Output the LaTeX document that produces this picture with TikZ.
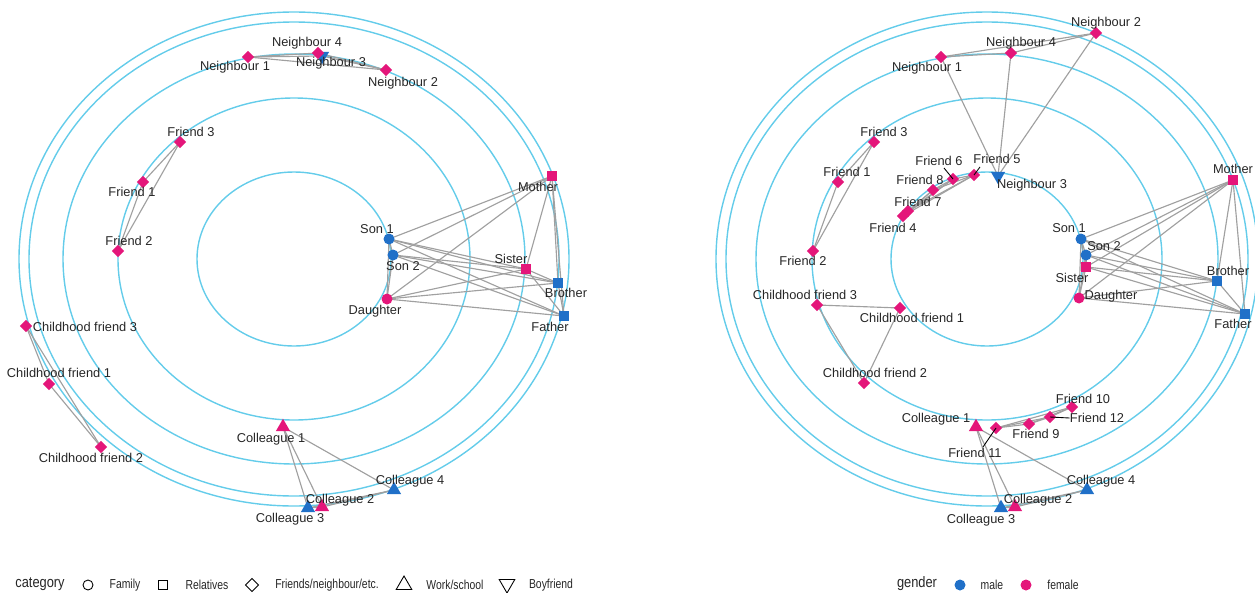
\documentclass[tikz,border=0pt]{standalone}
\usepackage{fontspec}
\setmainfont{Liberation Sans}
\usepackage{graphicx}
\usetikzlibrary{shapes.geometric,backgrounds}
\definecolor{ringblue}{RGB}{100,204,234}
\definecolor{fempink}{RGB}{228,22,122}
\definecolor{malblue}{RGB}{32,112,200}
\definecolor{edgegray}{RGB}{160,160,160}
\tikzset{
  ring/.style={draw=ringblue, line width=0.8pt},
  edge/.style={draw=edgegray, line width=0.65pt},
  lead/.style={draw=black, line width=0.5pt},
  lbl/.style={inner sep=0pt, text=black!85, font=\fontsize{7.3}{8.5}\selectfont},
  fam/.style={circle, inner sep=0pt, minimum size=0.22cm},
  rel/.style={rectangle, inner sep=0pt, minimum size=0.2cm},
  frd/.style={diamond, inner sep=0pt, minimum size=0.25cm},
  wrk/.style={regular polygon, regular polygon sides=3, inner sep=0pt, minimum size=0.33cm},
  boy/.style={regular polygon, regular polygon sides=3, shape border rotate=180, inner sep=0pt, minimum size=0.33cm},
  fem/.style={fill=fempink},
  mal/.style={fill=malblue},
  key/.style={draw=black, line width=0.5pt},
  keytxt/.style={inner sep=0pt, text=black!85, font=\fontsize{7.4}{8.5}\selectfont},
  keyhead/.style={inner sep=0pt, text=black!85, font=\fontsize{8.6}{10}\selectfont}
}

\begin{document}
\begin{tikzpicture}[x=0.02cm, y=-0.02cm]
\useasboundingbox (0,0) rectangle (1255,592);
% left panel: category
\path
  (322,56) node[boy, mal] (aN3) {}
  (248,57) node[frd, fem] (aN1) {}
  (318,53) node[frd, fem] (aN4) {}
  (386,70) node[frd, fem] (aN2) {}
  (235,67) node[lbl] (laN1) {Neighbour 1}
  (307,43) node[lbl] (laN4) {Neighbour 4}
  (331,63) node[lbl] (laN3) {Neighbour 3}
  (403,83) node[lbl] (laN2) {Neighbour 2}
  (180,142) node[frd, fem] (aF3) {}
  (143,182) node[frd, fem] (aF1) {}
  (118,251) node[frd, fem] (aF2) {}
  (191,132) node[lbl] (laF3) {Friend 3}
  (132,192) node[lbl] (laF1) {Friend 1}
  (129,241) node[lbl] (laF2) {Friend 2}
  (389,239) node[fam, mal] (aSon1) {}
  (393,255) node[fam, mal] (aSon2) {}
  (387,299) node[fam, fem] (aDau) {}
  (526,269) node[rel, fem] (aSis) {}
  (552,176) node[rel, fem] (aMot) {}
  (558,283) node[rel, mal] (aBro) {}
  (564,316) node[rel, mal] (aFat) {}
  (377,229) node[lbl] (laSon1) {Son 1}
  (403,266) node[lbl] (laSon2) {Son 2}
  (375,311) node[lbl] (laDau) {Daughter}
  (511,259) node[lbl] (laSis) {Sister}
  (538,187) node[lbl] (laMot) {Mother}
  (566,293) node[lbl] (laBro) {Brother}
  (550,327) node[lbl] (laFat) {Father}
  (26,326) node[frd, fem] (aCF3) {}
  (49,384) node[frd, fem] (aCF1) {}
  (101,447) node[frd, fem] (aCF2) {}
  (85,327) node[lbl] (laCF3) {Childhood friend 3}
  (59,373) node[lbl] (laCF1) {Childhood friend 1}
  (91,458) node[lbl] (laCF2) {Childhood friend 2}
  (283,427) node[wrk, fem] (aC1) {}
  (394,490) node[wrk, mal] (aC4) {}
  (308,508) node[wrk, mal] (aC3) {}
  (322,507) node[wrk, fem] (aC2) {}
  (271,439) node[lbl] (laC1) {Colleague 1}
  (410,481) node[lbl] (laC4) {Colleague 4}
  (340,500) node[lbl] (laC2) {Colleague 2}
  (290,519) node[lbl] (laC3) {Colleague 3};
% right panel: gender
\path
  (1096,33) node[frd, fem] (bN2) {}
  (1011,53) node[frd, fem] (bN4) {}
  (941,57) node[frd, fem] (bN1) {}
  (998,176) node[boy, mal] (bN3) {}
  (1106,23) node[lbl] (lbN2) {Neighbour 2}
  (1021,43) node[lbl] (lbN4) {Neighbour 4}
  (927,68) node[lbl] (lbN1) {Neighbour 1}
  (1032,185) node[lbl] (lbN3) {Neighbour 3}
  (874,142) node[frd, fem] (bF3) {}
  (838,182) node[frd, fem] (bF1) {}
  (813,251) node[frd, fem] (bF2) {}
  (884,132) node[lbl] (lbF3) {Friend 3}
  (847,172) node[lbl] (lbF1) {Friend 1}
  (803,261) node[lbl] (lbF2) {Friend 2}
  (974,175) node[frd, fem] (bF5) {}
  (953,179) node[frd, fem] (bF6) {}
  (933,190) node[frd, fem] (bF8) {}
  (908,211) node[frd, fem] (bF7) {}
  (903,216) node[frd, fem] (bF4) {}
  (997,159) node[lbl] (lbF5) {Friend 5}
  (939,161) node[lbl] (lbF6) {Friend 6}
  (920,180) node[lbl] (lbF8) {Friend 8}
  (918,202) node[lbl] (lbF7) {Friend 7}
  (893,228) node[lbl] (lbF4) {Friend 4}
  (1081,239) node[fam, mal] (bSon1) {}
  (1086,255) node[fam, mal] (bSon2) {}
  (1086,267) node[rel, fem] (bSis) {}
  (1079,298) node[fam, fem] (bDau) {}
  (1233,180) node[rel, fem] (bMot) {}
  (1217,281) node[rel, mal] (bBro) {}
  (1245,314) node[rel, mal] (bFat) {}
  (1069,228) node[lbl] (lbSon1) {Son 1}
  (1104,246) node[lbl] (lbSon2) {Son 2}
  (1072,278) node[lbl] (lbSis) {Sister}
  (1111,296) node[lbl] (lbDau) {Daughter}
  (1233,169) node[lbl] (lbMot) {Mother}
  (1228,271) node[lbl] (lbBro) {Brother}
  (1233,324) node[lbl] (lbFat) {Father}
  (817,305) node[frd, fem] (bCF3) {}
  (900,308) node[frd, fem] (bCF1) {}
  (864,383) node[frd, fem] (bCF2) {}
  (805,295) node[lbl] (lbCF3) {Childhood friend 3}
  (912,318) node[lbl] (lbCF1) {Childhood friend 1}
  (875,373) node[lbl] (lbCF2) {Childhood friend 2}
  (976,427) node[wrk, fem] (bC1) {}
  (996,428) node[frd, fem] (bF11) {}
  (1029,424) node[frd, fem] (bF9) {}
  (1050,417) node[frd, fem] (bF12) {}
  (1072,407) node[frd, fem] (bF10) {}
  (936,419) node[lbl] (lbC1) {Colleague 1}
  (975,453) node[lbl] (lbF11) {Friend 11}
  (1036,434) node[lbl] (lbF9) {Friend 9}
  (1097,418) node[lbl] (lbF12) {Friend 12}
  (1083,399) node[lbl] (lbF10) {Friend 10}
  (1087,490) node[wrk, mal] (bC4) {}
  (1001,508) node[wrk, mal] (bC3) {}
  (1015,507) node[wrk, fem] (bC2) {}
  (1101,481) node[lbl] (lbC4) {Colleague 4}
  (1038,500) node[lbl] (lbC2) {Colleague 2}
  (981,520) node[lbl] (lbC3) {Colleague 3};
% pointer lines
\coordinate (kF5) at (980,167);
\coordinate (kF6) at (944,168);
\coordinate (kF11) at (983,447);
\draw[lead] (kF5) -- (bF5.center);
\draw[lead] (kF6) -- (bF6.center);
\draw[lead] (kF11) -- (bF11.center);
\draw[lead] (bF12.center) -- (lbF12.west);
% rings and ties
\begin{scope}[on background layer]
\foreach \rx/\ry in {97/87, 176/161, 231/205, 265/237, 275/247}
  \draw[ring] (294,259) ellipse [x radius=\rx, y radius=\ry];
\foreach \rx/\ry in {96/87, 175/161, 231/205, 261/237, 271/247}
  \draw[ring] (987,259) ellipse [x radius=\rx, y radius=\ry];
\foreach \p in {a,b} {
  \foreach \u/\v in {Son1/Son2, Son1/Dau, Son1/Sis, Son1/Bro, Son1/Mot, Son1/Fat,
      Son2/Dau, Son2/Sis, Son2/Bro, Son2/Mot, Son2/Fat, Dau/Sis, Dau/Bro, Dau/Mot,
      Dau/Fat, Sis/Bro, Sis/Mot, Sis/Fat, Bro/Mot, Bro/Fat, Mot/Fat,
      N1/N2, N1/N3, N1/N4, N2/N3, N2/N4, N3/N4, F1/F2, F1/F3, F2/F3,
      CF1/CF2, CF1/CF3, CF2/CF3, C1/C2, C1/C3, C1/C4, C2/C3, C2/C4, C3/C4}
    \draw[edge] (\p\u.center) -- (\p\v.center);
}
\foreach \u/\v in {F4/F5, F4/F6, F4/F7, F4/F8, F5/F6, F5/F7, F5/F8, F6/F7, F6/F8, F7/F8,
    F9/F10, F9/F11, F9/F12, F10/F11, F10/F12, F11/F12}
  \draw[edge] (b\u.center) -- (b\v.center);
\end{scope}
% legends
\path
  (40,584) node[keyhead] (hcat) {\scalebox{0.85}[1]{category}}
  (88,585) node[key, circle, inner sep=0pt, minimum size=0.2cm] (kfam) {}
  (125,585) node[keytxt] (tfam) {\scalebox{0.8}[1]{Family}}
  (163,585) node[key, rectangle, inner sep=0pt, minimum size=0.19cm] (krel) {}
  (207,585) node[keytxt] (trel) {\scalebox{0.8}[1]{Relatives}}
  (252,585) node[key, diamond, inner sep=0pt, minimum size=0.27cm] (kfrd) {}
  (327,585) node[keytxt] (tfrd) {\scalebox{0.8}[1]{Friends/neighbour/etc.}}
  (404,585) node[key, regular polygon, regular polygon sides=3, inner sep=0pt, minimum size=0.36cm] (kwrk) {}
  (455,585) node[keytxt] (twrk) {\scalebox{0.8}[1]{Work/school}}
  (507,584) node[key, regular polygon, regular polygon sides=3, shape border rotate=180, inner sep=0pt, minimum size=0.36cm] (kboy) {}
  (551,585) node[keytxt] (tboy) {\scalebox{0.8}[1]{Boyfriend}}
  (917,584) node[keyhead] (hgen) {\scalebox{0.85}[1]{gender}}
  (960,585) node[fam, mal] (kmal) {}
  (992,585) node[keytxt] (tmal) {\scalebox{0.8}[1]{male}}
  (1026,585) node[fam, fem] (kfem) {}
  (1063,585) node[keytxt] (tfem) {\scalebox{0.8}[1]{female}};
\end{tikzpicture}
\end{document}
